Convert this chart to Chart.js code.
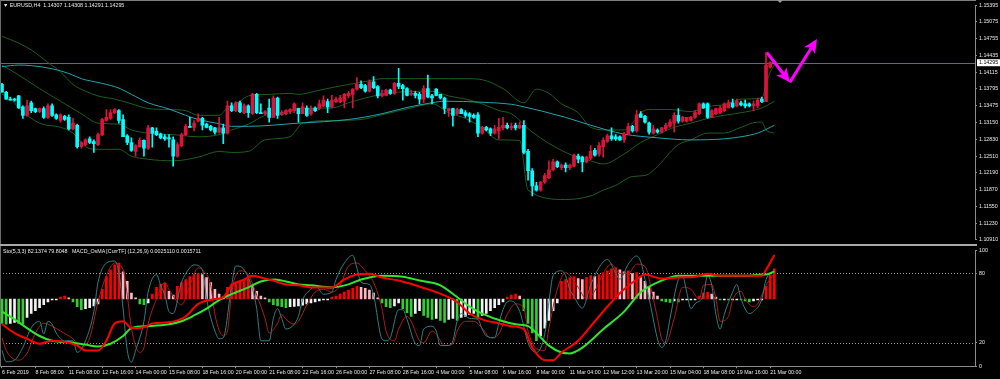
<!DOCTYPE html>
<html><head><meta charset="utf-8">
<script src="https://cdn.jsdelivr.net/npm/chart.js@4.4.1/dist/chart.umd.min.js"></script>
<style>
html,body{margin:0;padding:0;background:#000;width:1000px;height:379px;overflow:hidden;}
#wrap{position:relative;width:1000px;height:379px;background:#000;}
canvas{position:absolute;left:0;}
#c1{top:0;}
#c2{top:245px;}
.ln{position:absolute;}
.txt{position:absolute;font-family:"Liberation Sans",Arial,sans-serif;font-size:10.6px;line-height:1;transform:scale(0.5);transform-origin:0 0;color:#e8e8e8;white-space:pre;}
#shift{position:absolute;left:777px;top:0;width:0;height:0;border-left:3px solid transparent;border-right:3px solid transparent;border-top:3px solid #9a9a9a;}
</style></head><body>
<div id="wrap">
<canvas id="c1" width="1000" height="245"></canvas>
<canvas id="c2" width="1000" height="134"></canvas>
<div class="ln" style="left:0;top:0;width:976px;height:1px;background:#7d7d7d"></div>
<div class="ln" style="left:0;top:0;width:1px;height:367px;background:#6a6a6a"></div>
<div class="ln" style="left:0;top:244px;width:977px;height:2px;background:#a8a8a8"></div>
<div id="shift"></div>
<div class="txt" style="left:3px;top:2px">▼ EURUSD,H4  1.14307 1.14308 1.14291 1.14295</div>
<div class="txt" style="left:3px;top:247.5px">Sto(5,3,3) 82.1374 79.8048   MACD_OsMA [CurrTF] (12,26,9) 0.0025110 0.0015711</div>
</div>
<script>
// ---------- DATA ----------
const openP = [1.1388,1.1373,1.1360,1.1360,1.1366,1.1345,1.1329,1.1353,1.1342,1.1336,
1.1342,1.1325,1.1347,1.1330,1.1319,1.1327,1.1325,1.1303,1.1310,1.1269,
1.1273,1.1284,1.1279,1.1273,1.1292,1.1319,1.1323,1.1334,1.1338,1.1321,
1.1290,1.1277,1.1260,1.1269,1.1281,1.1266,1.1305,1.1299,1.1293,1.1288,
1.1286,1.1282,1.1251,1.1271,1.1292,1.1308,1.1306,1.1318,1.1323,1.1312,
1.1308,1.1305,1.1297,1.1305,1.1295,1.1347,1.1338,1.1353,1.1334,1.1347,
1.1332,1.1369,1.1334,1.1332,1.1343,1.1325,1.1362,1.1330,1.1332,1.1336,
1.1338,1.1342,1.1332,1.1343,1.1332,1.1343,1.1342,1.1347,1.1355,1.1345,
1.1355,1.1355,1.1356,1.1366,1.1369,1.1379,1.1388,1.1386,1.1375,1.1393,
1.1384,1.1366,1.1367,1.1377,1.1371,1.1390,1.1386,1.1380,1.1369,1.1371,
1.1369,1.1360,1.1380,1.1366,1.1379,1.1369,1.1362,1.1338,1.1342,1.1332,
1.1340,1.1334,1.1332,1.1329,1.1330,1.1295,1.1306,1.1303,1.1295,1.1299,
1.1305,1.1310,1.1305,1.1310,1.1305,1.1310,1.1260,1.1223,1.1194,1.1186,
1.1201,1.1210,1.1225,1.1240,1.1229,1.1234,1.1229,1.1232,1.1251,1.1249,
1.1240,1.1247,1.1262,1.1255,1.1269,1.1279,1.1290,1.1288,1.1288,1.1282,
1.1293,1.1308,1.1299,1.1332,1.1327,1.1314,1.1295,1.1301,1.1297,1.1303,
1.1308,1.1314,1.1329,1.1318,1.1318,1.1319,1.1325,1.1332,1.1351,1.1351,
1.1325,1.1332,1.1334,1.1338,1.1343,1.1353,1.1347,1.1353,1.1351,1.1351,
1.1347,1.1347,1.1360,1.1355,1.1421,1.14307];
const highP = [1.1390,1.1375,1.1364,1.1362,1.1367,1.1347,1.1358,1.1356,1.1343,1.1343,
1.1345,1.1351,1.1351,1.1332,1.1332,1.1329,1.1330,1.1323,1.1312,1.1279,
1.1284,1.1288,1.1282,1.1295,1.1323,1.1340,1.1340,1.1342,1.1340,1.1330,
1.1292,1.1286,1.1273,1.1286,1.1282,1.1310,1.1306,1.1305,1.1295,1.1292,
1.1292,1.1288,1.1277,1.1295,1.1312,1.1325,1.1319,1.1332,1.1325,1.1314,
1.1310,1.1306,1.1325,1.1312,1.1356,1.1353,1.1355,1.1356,1.1351,1.1349,
1.1371,1.1371,1.1351,1.1338,1.1360,1.1366,1.1364,1.1338,1.1340,1.1342,
1.1353,1.1343,1.1353,1.1347,1.1347,1.1345,1.1358,1.1366,1.1360,1.1367,
1.1364,1.1367,1.1371,1.1375,1.1380,1.1401,1.1395,1.1388,1.1397,1.1403,
1.1386,1.1377,1.1379,1.1379,1.1392,1.1419,1.1388,1.1382,1.1377,1.1375,
1.1373,1.1386,1.1406,1.1369,1.1380,1.1369,1.1364,1.1343,1.1343,1.1343,
1.1342,1.1338,1.1334,1.1332,1.1334,1.1308,1.1308,1.1305,1.1310,1.1323,
1.1325,1.1314,1.1314,1.1314,1.1316,1.1319,1.1264,1.1227,1.1201,1.1203,
1.1218,1.1242,1.1245,1.1242,1.1236,1.1238,1.1236,1.1255,1.1255,1.1251,
1.1251,1.1271,1.1266,1.1277,1.1286,1.1293,1.1305,1.1292,1.1290,1.1297,
1.1314,1.1310,1.1338,1.1336,1.1329,1.1316,1.1310,1.1303,1.1306,1.1314,
1.1321,1.1334,1.1342,1.1327,1.1325,1.1327,1.1338,1.1353,1.1353,1.1353,
1.1340,1.1343,1.1347,1.1353,1.1358,1.1360,1.1360,1.1356,1.1358,1.1353,
1.1356,1.1362,1.1364,1.1449,1.1431,1.14308];
const lowP = [1.1373,1.1360,1.1358,1.1356,1.1342,1.1323,1.1327,1.1334,1.1334,1.1334,
1.1323,1.1323,1.1327,1.1321,1.1316,1.1319,1.1301,1.1301,1.1266,1.1266,
1.1271,1.1275,1.1258,1.1271,1.1290,1.1318,1.1321,1.1332,1.1314,1.1288,
1.1273,1.1260,1.1251,1.1268,1.1251,1.1264,1.1268,1.1290,1.1284,1.1281,
1.1268,1.1232,1.1249,1.1269,1.1290,1.1306,1.1299,1.1316,1.1301,1.1305,
1.1299,1.1293,1.1295,1.1275,1.1293,1.1336,1.1336,1.1334,1.1332,1.1325,
1.1330,1.1332,1.1332,1.1330,1.1316,1.1325,1.1323,1.1329,1.1330,1.1332,
1.1334,1.1316,1.1332,1.1327,1.1329,1.1336,1.1340,1.1345,1.1334,1.1343,
1.1353,1.1353,1.1343,1.1362,1.1343,1.1377,1.1380,1.1373,1.1373,1.1380,
1.1362,1.1364,1.1366,1.1369,1.1369,1.1380,1.1358,1.1366,1.1367,1.1362,
1.1351,1.1353,1.1362,1.1351,1.1366,1.1360,1.1332,1.1327,1.1308,1.1330,
1.1332,1.1325,1.1316,1.1323,1.1288,1.1293,1.1299,1.1290,1.1293,1.1284,
1.1301,1.1303,1.1301,1.1301,1.1303,1.1255,1.1205,1.1175,1.1184,1.1184,
1.1199,1.1208,1.1223,1.1229,1.1225,1.1221,1.1225,1.1231,1.1238,1.1221,
1.1238,1.1244,1.1251,1.1251,1.1249,1.1277,1.1281,1.1281,1.1281,1.1277,
1.1292,1.1297,1.1297,1.1325,1.1314,1.1293,1.1293,1.1295,1.1295,1.1299,
1.1306,1.1297,1.1314,1.1316,1.1316,1.1318,1.1323,1.1330,1.1342,1.1323,
1.1325,1.1330,1.1332,1.1336,1.1343,1.1343,1.1345,1.1347,1.1343,1.1345,
1.1338,1.1343,1.1353,1.1355,1.1419,1.14291];
const closeP = [1.1373,1.1360,1.1358,1.1358,1.1343,1.1329,1.1347,1.1338,1.1336,1.1342,
1.1325,1.1347,1.1329,1.1323,1.1330,1.1321,1.1303,1.1314,1.1269,1.1277,
1.1282,1.1277,1.1275,1.1292,1.1321,1.1325,1.1334,1.1340,1.1319,1.1288,
1.1277,1.1262,1.1271,1.1281,1.1266,1.1305,1.1295,1.1292,1.1286,1.1284,
1.1284,1.1251,1.1273,1.1292,1.1308,1.1306,1.1314,1.1323,1.1310,1.1306,
1.1301,1.1297,1.1305,1.1295,1.1347,1.1338,1.1353,1.1336,1.1347,1.1334,
1.1369,1.1334,1.1332,1.1336,1.1325,1.1362,1.1329,1.1334,1.1338,1.1340,
1.1351,1.1332,1.1345,1.1329,1.1343,1.1338,1.1351,1.1358,1.1345,1.1358,
1.1360,1.1362,1.1369,1.1371,1.1379,1.1388,1.1382,1.1375,1.1393,1.1382,
1.1366,1.1371,1.1377,1.1371,1.1390,1.1384,1.1380,1.1367,1.1371,1.1367,
1.1360,1.1380,1.1364,1.1362,1.1367,1.1362,1.1342,1.1342,1.1329,1.1340,
1.1332,1.1329,1.1327,1.1325,1.1295,1.1306,1.1301,1.1295,1.1303,1.1306,
1.1310,1.1305,1.1308,1.1305,1.1310,1.1258,1.1223,1.1194,1.1186,1.1201,
1.1214,1.1225,1.1240,1.1231,1.1234,1.1229,1.1234,1.1253,1.1245,1.1240,
1.1249,1.1260,1.1253,1.1271,1.1281,1.1290,1.1284,1.1284,1.1282,1.1293,
1.1308,1.1299,1.1330,1.1325,1.1316,1.1297,1.1303,1.1297,1.1305,1.1310,
1.1316,1.1329,1.1318,1.1325,1.1325,1.1325,1.1334,1.1351,1.1343,1.1325,
1.1338,1.1342,1.1343,1.1351,1.1353,1.1345,1.1356,1.1349,1.1347,1.1347,
1.1351,1.1358,1.1355,1.1425,1.1430,1.14295];

const bbUpper = [[0,1.1480],[4,1.1467],[7,1.1454],[11,1.1430],[14,1.1412],[17,1.1388],[20,1.1375],[23,1.1366],[27,1.1360],[31,1.1351],[35,1.1342],[40,1.1340],[44,1.1338],[47,1.1329],[52,1.1329],[54,1.1343],[57,1.1356],[59,1.1366],[64,1.1369],[69,1.1371],[71,1.1369],[75,1.1375],[79,1.1382],[83,1.1388],[88,1.1395],[91,1.1399],[99,1.1399],[107,1.1399],[111,1.1399],[115,1.1397],[120,1.1380],[125,1.1353],[128,1.1379],[131,1.1371],[134,1.1351],[138,1.1334],[141,1.1306],[145,1.1301],[149,1.1301],[151,1.1314],[153,1.1334],[155,1.1340],[160,1.1340],[165,1.1336],[167,1.1340],[170,1.1347],[173,1.1349],[177,1.1360],[182,1.1362],[183,1.1388],[184,1.1412],[185,1.1425]];
const bbMiddle = [[0,1.1425],[4,1.1406],[9,1.1380],[14,1.1356],[19,1.1332],[23,1.1314],[28,1.1312],[31,1.1301],[35,1.1295],[41,1.1292],[47,1.1288],[52,1.1292],[55,1.1301],[59,1.1312],[63,1.1329],[67,1.1334],[71,1.1342],[79,1.1343],[83,1.1353],[87,1.1362],[91,1.1369],[99,1.1375],[103,1.1375],[107,1.1366],[111,1.1360],[115,1.1351],[119,1.1338],[122,1.1332],[127,1.1297],[135,1.1258],[141,1.1242],[144,1.1236],[149,1.1255],[153,1.1277],[157,1.1292],[161,1.1306],[165,1.1314],[169,1.1323],[173,1.1329],[177,1.1334],[182,1.1343],[185,1.1356]];
const bbLower = [[0,1.1369],[2,1.1362],[4,1.1343],[9,1.1314],[14,1.1306],[17,1.1295],[20,1.1269],[23,1.1264],[28,1.1264],[31,1.1251],[35,1.1245],[41,1.1242],[47,1.1249],[52,1.1260],[55,1.1258],[59,1.1260],[63,1.1282],[69,1.1288],[72,1.1314],[79,1.1319],[86,1.1321],[91,1.1330],[98,1.1343],[103,1.1351],[107,1.1334],[111,1.1323],[115,1.1305],[119,1.1282],[124,1.1281],[126,1.1186],[135,1.1168],[141,1.1175],[144,1.1186],[147,1.1195],[151,1.1212],[154,1.1214],[157,1.1231],[160,1.1258],[162,1.1273],[165,1.1282],[169,1.1295],[173,1.1295],[177,1.1306],[181,1.1316],[182,1.1316],[183,1.1301],[185,1.1295]];
const maLine = [[0,1.1422],[4,1.1425],[7,1.1424],[12,1.1418],[16,1.1409],[19,1.1399],[24,1.1390],[28,1.1381],[31,1.1369],[35,1.1353],[40,1.1341],[44,1.1329],[47,1.1321],[52,1.1313],[55,1.1308],[59,1.1308],[71,1.1314],[83,1.1321],[91,1.1332],[97,1.1344],[103,1.1353],[106,1.1356],[115,1.1354],[122,1.1350],[124,1.1347],[135,1.1325],[141,1.1310],[149,1.1293],[157,1.1286],[165,1.1282],[173,1.1284],[177,1.1288],[181,1.1295],[185,1.1310]];

const priceTicks = [1.15395,1.15075,1.14755,1.14435,1.14115,1.13795,1.13475,1.13150,1.12830,1.12510,1.12190,1.11870,1.11550,1.11230,1.10910];
const arrowPath = [[183.2,1.1449],[188.7,1.1392],[195.2,1.1475]];

const stochMain = [[0,13.6],[1,3.8],[3,5.2],[5,16.3],[7,33.1],[9,38.7],[10,27.8],[11,38.7],[12,36.2],[13,28.6],[15,21.9],[17,21.9],[18,11.9],[20,21.9],[22,47.1],[23,72.2],[25,88.9],[27,90.6],[28,80.6],[29,49.6],[30,13.6],[31,3.5],[32,13.6],[34,38.7],[35,63.8],[37,78.9],[38,69.7],[39,61.3],[40,47.1],[41,45.4],[43,72.2],[45,84.8],[46,87.3],[48,83.1],[49,57.9],[51,30.3],[52,23.6],[53,24.5],[55,69.7],[56,86.4],[58,83.1],[60,66.3],[61,49.6],[62,21.9],[64,21.9],[65,41.2],[66,49.6],[67,41.2],[68,32.0],[70,36.2],[71,42.9],[72,57.1],[74,66.3],[75,69.7],[77,62.1],[79,63.8],[80,74.7],[82,88.9],[84,95.6],[85,84.8],[86,72.2],[88,70.5],[89,61.3],[91,23.6],[92,21.9],[93,24.5],[95,48.7],[96,48.7],[97,40.4],[99,19.4],[100,17.8],[101,32.0],[103,34.5],[104,30.3],[105,17.8],[107,17.8],[108,21.9],[109,38.7],[110,45.4],[112,41.2],[114,40.4],[115,32.0],[116,26.1],[118,24.5],[119,37.0],[120,48.7],[121,55.4],[122,56.2],[124,47.1],[126,20.3],[127,13.6],[128,11.9],[130,27.8],[131,55.4],[132,78.1],[134,82.2],[135,78.1],[136,66.3],[137,60],[139,50],[141,70],[143,85],[145,92],[147,80],[148,75],[150,88],[152,95],[153,90],[154,75],[155,58],[158,16.1],[159,21.9],[160,41.2],[162,74.7],[163,78.1],[164,63.8],[165,49.6],[166,53.8],[168,61.3],[169,78.1],[170,69.7],[171,44.6],[172,32.0],[173,44.6],[175,63.8],[176,70.5],[177,57.9],[179,45.4],[180,47.1],[182,57.9],[183,74.7],[185,82.1]];
const stochSignal = [[0,24.5],[1,13.6],[4,5.2],[6,11.1],[8,28.6],[10,37.0],[12,34.5],[14,30.3],[17,23.6],[19,16.1],[21,24.5],[23,55.4],[25,78.1],[27,88.9],[29,83.1],[30,61.3],[31,32.8],[33,11.9],[34,16.1],[35,36.2],[37,57.9],[39,72.2],[40,66.3],[42,55.4],[43,52.9],[45,69.7],[47,84.8],[48,83.1],[50,69.7],[51,44.6],[53,26.1],[54,30.3],[55,63.8],[57,82.2],[59,78.9],[61,61.3],[63,41.2],[64,28.6],[66,37.0],[67,44.6],[68,40.4],[70,36.2],[71,38.7],[73,52.9],[75,63.8],[77,66.3],[79,63.8],[81,69.7],[83,86.4],[85,88.9],[87,82.2],[89,72.2],[91,49.6],[92,30.3],[94,21.9],[95,32.0],[97,42.9],[98,38.7],[100,21.9],[101,20.3],[103,30.3],[104,27.8],[106,17.8],[108,19.4],[109,30.3],[111,38.7],[113,38.7],[115,32.8],[117,24.5],[119,27.8],[121,44.6],[123,53.8],[125,49.6],[126,30.3],[128,15.2],[130,13.6],[131,32.8],[133,66.3],[135,80.6],[136,78.1],[138,68],[140,58],[142,65],[144,80],[146,88],[148,80],[150,80],[152,88],[154,86],[156,58],[157,41.2],[158,23.6],[159,20.3],[161,41.2],[163,68.0],[165,66.3],[167,57.9],[168,69.7],[170,70.5],[171,57.9],[172,38.7],[174,42.9],[175,57.1],[177,64.6],[178,57.9],[180,51.3],[181,53.8],[183,69.7],[185,79.8]];
const macdMain = [[0,-0.00144],[3,-0.00194],[6,-0.00227],[9,-0.00255],[12,-0.00238],[16,-0.00249],[18,-0.00266],[20,-0.00294],[23,-0.00294],[25,-0.00238],[27,-0.00139],[29,-0.00127],[31,-0.00166],[34,-0.00161],[36,-0.00139],[40,-0.00133],[42,-0.00122],[44,-0.00100],[47,-0.00028],[51,0],[53,0.00011],[55,0.00078],[58,0.00111],[60,0.00133],[62,0.00122],[65,0.00105],[68,0.00083],[71,0.00078],[74,0.00066],[79,0.00066],[82,0.00111],[85,0.00139],[88,0.00144],[91,0.00122],[95,0.00105],[99,0.00078],[104,0.00039],[109,-0.00017],[112,-0.00083],[115,-0.00116],[119,-0.00139],[122,-0.00155],[125,-0.00172],[127,-0.00277],[130,-0.00349],[132,-0.00349],[134,-0.00305],[138,-0.00238],[142,-0.00127],[146,-0.00017],[149,0.00055],[152,0.00111],[154,0.00139],[158,0.00116],[162,0.00122],[166,0.00127],[169,0.00144],[172,0.00133],[177,0.00133],[182,0.00133],[183,0.00166],[185,0.00251]];
const macdSignal = [[0,-0.00072],[3,-0.00116],[6,-0.00166],[9,-0.00211],[12,-0.00238],[17,-0.00249],[20,-0.00260],[23,-0.00271],[26,-0.00255],[29,-0.00211],[31,-0.00166],[35,-0.00155],[40,-0.00144],[43,-0.00127],[46,-0.00094],[49,-0.00055],[52,-0.00006],[55,0.00028],[59,0.00066],[62,0.00100],[65,0.00111],[68,0.00100],[71,0.00083],[74,0.00078],[79,0.00066],[83,0.00083],[86,0.00111],[91,0.00133],[96,0.00127],[100,0.00105],[105,0.00078],[109,0.00011],[112,-0.00044],[115,-0.00083],[120,-0.00127],[123,-0.00144],[126,-0.00155],[128,-0.00194],[131,-0.00266],[134,-0.00305],[136,-0.00310],[139,-0.00277],[144,-0.00172],[149,-0.00072],[153,0.00039],[158,0.00105],[162,0.00133],[168,0.00133],[174,0.00133],[179,0.00133],[182,0.00139],[183,0.00139],[185,0.00157]];
const osma = [-0.00139,-0.00144,-0.00139,-0.00133,-0.00139,-0.00144,-0.00105,-0.00083,-0.00066,-0.0005,
-0.00033,-0.00017,-0.00006,-0.00003,0.00011,0.00017,0.00006,-0.00017,-0.00044,-0.00061,
-0.00055,-0.0005,-0.00039,-0.00028,0.00055,0.00127,0.00166,0.00194,0.00205,0.00155,
0.001,0.00033,0.00006,-0.00028,-0.00033,-0.00022,0.00028,0.00066,0.00083,0.00089,
0.00044,0.00022,0.00072,0.00094,0.00111,0.00127,0.00139,0.00144,0.00139,0.00122,
0.00094,0.00055,0.00028,0.00011,0.00066,0.00083,0.00094,0.001,0.00111,0.00116,
0.00072,0.00044,0.00017,0.00006,-0.00017,-0.00033,-0.00039,-0.00044,-0.0005,-0.00044,
-0.00042,-0.00039,-0.00036,-0.00028,-0.00022,-0.00017,-0.00011,-0.00006,-0.00003,0.00011,
0.00017,0.00028,0.00039,0.0005,0.00061,0.00072,0.00066,0.00061,0.0005,0.00033,
0.00006,-0.00022,-0.00044,-0.0005,-0.00039,-0.00022,-0.00055,-0.00078,-0.001,-0.00083,
-0.00066,-0.00094,-0.00105,-0.00116,-0.00111,-0.00122,-0.00133,-0.00116,-0.00111,-0.00122,
-0.00105,-0.001,-0.00089,-0.00083,-0.00111,-0.00094,-0.00083,-0.00066,-0.0005,-0.00033,
-0.00017,0.00011,0.00022,0.00028,0.00017,-0.00066,-0.00139,-0.00194,-0.00238,-0.00211,
-0.00166,-0.00122,-0.00066,-0.00022,0.001,0.00111,0.00122,0.00127,0.00116,0.00111,
0.00122,0.00133,0.00127,0.00139,0.0015,0.00161,0.00172,0.00177,0.00166,0.00155,
0.00161,0.00144,0.0015,0.00122,0.001,0.00072,0.00039,0.00017,-0.00011,-0.00017,
-0.00019,-0.00011,-0.00017,-0.00006,-0.00003,-0.00002,-0.00001,0.00017,0.00033,0.00039,
0.00028,0.00011,-0.00003,-0.00002,-0.00006,-0.00003,-0.00002,-0.00003,-0.00011,-0.00017,
-0.00011,-0.00006,-0.00003,0.00072,0.00139,0.00172];
const stochTicks = [100,80,20,0];
const stochLevels = [80,20];
const timeLabels = ["6 Feb 2019","8 Feb 08:00","11 Feb 08:00","12 Feb 16:00","14 Feb 00:00","15 Feb 08:00","18 Feb 16:00","20 Feb 00:00","21 Feb 08:00","22 Feb 16:00","26 Feb 00:00","27 Feb 08:00","28 Feb 16:00","4 Mar 00:00","5 Mar 08:00","6 Mar 16:00","8 Mar 00:00","11 Mar 04:00","12 Mar 12:00","13 Mar 20:00","15 Mar 04:00","18 Mar 08:00","19 Mar 16:00","21 Mar 00:00"];
const timeIdx = [0,8,16,24,32,40,48,56,64,72,80,88,96,104,112,120,128,136,144,152,160,168,176,184];

// ---------- STYLE / VIEW ----------
const X_MIN = -0.479, X_MAX = 233.05;
const UP = '#dc143c', DN = '#00ffff';
const BB = '#1c5e1c', MA = '#1ea5ad';
const FONT = {family:'"Liberation Sans", Arial, sans-serif', size:5.3};
const TXT = '#e8e8e8', AX = '#8c8c8c';
const N = closeP.length;
const pts = a => a.map(([x,y]) => ({x, y}));
const candleColor = i => closeP[i] >= openP[i] ? UP : DN;
const wickData = closeP.map((c,i) => ({x:i, y:[Math.min(lowP[i],openP[i],c), Math.max(highP[i],openP[i],c)]}));
const bodyData = closeP.map((c,i) => ({x:i, y:[Math.min(openP[i],c), Math.max(openP[i],c)]}));
function histColor(i){
  const v = osma[i], p = i>0 ? osma[i-1] : v;
  if (v >= 0) return v >= p ? '#ff0000' : '#ffb6c1';
  return v <= p ? '#32cd32' : '#f2f2f2';
}
function drawArrow(ctx, x1, y1, x2, y2){
  const a = Math.atan2(y2-y1, x2-x1), hl = 14, hw = 6.5;
  const c = Math.cos(a), s = Math.sin(a);
  const bx = x2 - hl*c, by = y2 - hl*s;
  const nx = x2 - hl*0.75*c, ny = y2 - hl*0.75*s;
  ctx.beginPath(); ctx.moveTo(x1,y1); ctx.lineTo(nx,ny);
  ctx.lineWidth = 3; ctx.strokeStyle = '#ff00ff'; ctx.stroke();
  ctx.beginPath(); ctx.moveTo(x2,y2);
  ctx.lineTo(bx + hw*s, by - hw*c); ctx.lineTo(nx, ny); ctx.lineTo(bx - hw*s, by + hw*c);
  ctx.closePath(); ctx.fillStyle = '#ff00ff'; ctx.fill();
}
const mainDecor = {
  id:'mainDecor',
  beforeDatasetsDraw(chart){
    const {ctx, chartArea:a, scales:{y}} = chart;
    const py = Math.round(y.getPixelForValue(closeP[N-1])) + 0.5;
    ctx.save(); ctx.strokeStyle = '#5f6b78'; ctx.lineWidth = 1;
    ctx.beginPath(); ctx.moveTo(a.left, py); ctx.lineTo(a.right, py); ctx.stroke(); ctx.restore();
  },
  afterDatasetsDraw(chart){
    const {ctx, scales:{x, y}} = chart;
    const P = arrowPath.map(([i,v]) => [x.getPixelForValue(i), y.getPixelForValue(v)]);
    ctx.save();
    for (let k=0; k<P.length-1; k++) drawArrow(ctx, P[k][0], P[k][1], P[k+1][0], P[k+1][1]);
    ctx.restore();
  },
  afterDraw(chart){
    const {ctx, chartArea:a, scales:{y}} = chart;
    const py = y.getPixelForValue(closeP[N-1]);
    ctx.save();
    ctx.fillStyle = '#ffffff'; ctx.fillRect(a.right+2, py-3.5, 23, 7);
    ctx.fillStyle = '#000000'; ctx.font = '5.3px "Liberation Sans", Arial, sans-serif';
    ctx.textBaseline = 'middle'; ctx.textAlign = 'left';
    ctx.fillText(closeP[N-1].toFixed(5), a.right+4, py+0.3);
    ctx.restore();
  }
};
const subDecor = {
  id:'subDecor',
  beforeDatasetsDraw(chart){
    const {ctx, chartArea:a, scales:{ys}} = chart;
    ctx.save(); ctx.strokeStyle = '#9a9a9a'; ctx.lineWidth = 1; ctx.setLineDash([1,2]);
    stochLevels.forEach(v => {
      const py = Math.round(ys.getPixelForValue(v)) + 0.5;
      ctx.beginPath(); ctx.moveTo(a.left, py); ctx.lineTo(a.right, py); ctx.stroke();
    });
    ctx.restore();
  }
};
const lineDs = (data, color, width, order, axis) => ({type:'line', data:pts(data), borderColor:color, borderWidth:width, pointRadius:0, cubicInterpolationMode:'monotone', order, yAxisID:axis});

new Chart(document.getElementById('c1'), {
  type:'bar',
  data:{datasets:[
    lineDs(bbUpper, BB, 1, 6, 'y'),
    lineDs(bbMiddle, BB, 1, 6, 'y'),
    lineDs(bbLower, BB, 1, 6, 'y'),
    lineDs(maLine, MA, 1, 5, 'y'),
    {type:'bar', data:wickData, backgroundColor:c => candleColor(c.dataIndex), barThickness:1, grouped:false, minBarLength:1, order:2},
    {type:'bar', data:bodyData, backgroundColor:c => candleColor(c.dataIndex), barThickness:3, grouped:false, minBarLength:1, order:1}
  ]},
  options:{
    responsive:false, animation:false, devicePixelRatio:1,
    layout:{padding:{top:1, bottom:2, left:0, right:0}, autoPadding:false},
    plugins:{legend:{display:false}, tooltip:{enabled:false}},
    scales:{
      x:{type:'linear', min:X_MIN, max:X_MAX, display:false, offset:false, grid:{offset:false}},
      y:{type:'linear', position:'right', min:1.10910, max:1.15395,
         afterFit:s => { s.width = 25; },
         afterBuildTicks:s => { s.ticks = priceTicks.map(v => ({value:v})); },
         ticks:{callback:v => Number(v).toFixed(5), color:TXT, font:FONT, padding:2, autoSkip:false},
         grid:{drawOnChartArea:false, tickLength:2, color:AX},
         border:{display:true, color:AX}}
    }
  },
  plugins:[mainDecor]
});

new Chart(document.getElementById('c2'), {
  type:'bar',
  data:{datasets:[
    {type:'bar', data:osma.map((v,i) => ({x:i, y:v})), yAxisID:'yo', backgroundColor:c => histColor(c.dataIndex), barThickness:2, grouped:false, minBarLength:1, order:6},
    lineDs(stochMain, '#2f8080', 1, 4, 'ys'),
    lineDs(stochSignal, '#b01c1c', 1, 4, 'ys'),
    lineDs(macdSignal, '#2ee62e', 2, 2, 'yo'),
    lineDs(macdMain, '#ff0000', 2, 1, 'yo')
  ]},
  options:{
    responsive:false, animation:false, devicePixelRatio:1,
    layout:{padding:{top:1.8, bottom:0, left:0, right:0}, autoPadding:false},
    plugins:{legend:{display:false}, tooltip:{enabled:false}},
    scales:{
      x:{type:'linear', position:'bottom', min:X_MIN, max:X_MAX, offset:false,
         afterFit:s => { s.height = 12.8; },
         afterBuildTicks:s => { s.ticks = timeIdx.map(v => ({value:v})); },
         ticks:{callback:v => timeLabels[timeIdx.indexOf(v)], align:'start', maxRotation:0, minRotation:0, autoSkip:false, padding:1, color:TXT, font:FONT},
         grid:{drawOnChartArea:false, tickLength:2, color:AX, offset:false},
         border:{display:true, color:AX}},
      ys:{type:'linear', position:'right', min:0, max:100,
         afterFit:s => { s.width = 25; },
         afterBuildTicks:s => { s.ticks = stochTicks.map(v => ({value:v})); },
         ticks:{callback:v => String(v), color:TXT, font:FONT, padding:2, autoSkip:false},
         grid:{drawOnChartArea:false, tickLength:2, color:AX},
         border:{display:true, color:AX}},
      yo:{type:'linear', display:false, position:'right', min:-0.00383, max:0.00278}
    }
  },
  plugins:[subDecor]
});
</script>
</body></html>
